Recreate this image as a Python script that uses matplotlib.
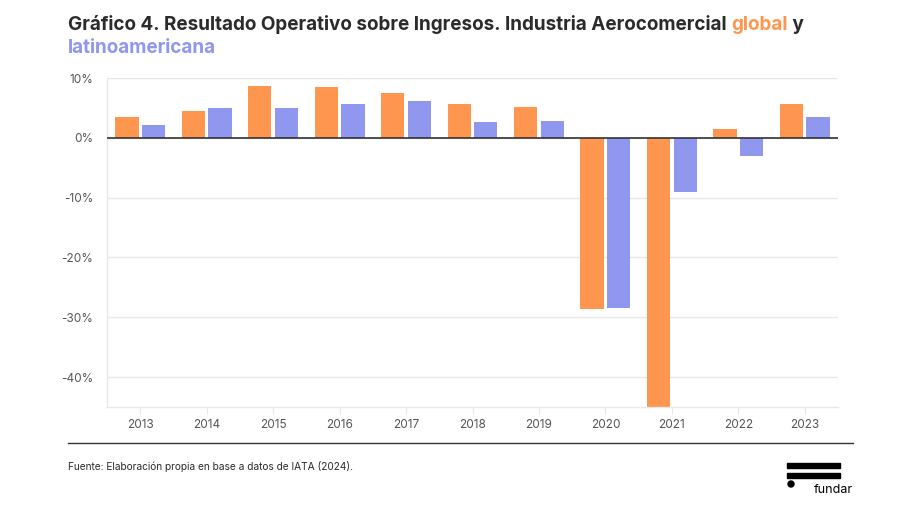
import matplotlib.pyplot as plt
from matplotlib.patches import Rectangle, Ellipse
import numpy as np

plt.rcParams['font.family'] = ['Inter', 'DejaVu Sans']

years = ['2013', '2014', '2015', '2016', '2017', '2018', '2019', '2020', '2021', '2022', '2023']
global_vals = [3.5, 4.5, 8.7, 8.5, 7.5, 5.7, 5.2, -28.7, -48.0, 1.5, 5.7]
latam_vals = [2.2, 5.0, 5.0, 5.7, 6.2, 2.7, 2.8, -28.4, -9.0, -3.1, 3.5]
yticks = [10, 0, -10, -20, -30, -40]

orange = '#FF964F'
blue = '#8F97EE'
text_col = '#2B2B2B'
tick_col = '#555555'
grid_col = '#E8E8E8'

W, H = 900, 505
fig = plt.figure(figsize=(9, 5.05), dpi=100)
ax = fig.add_axes([107 / W, 1 - 407 / H, (838 - 107) / W, (407 - 78) / H])

x = np.arange(len(years))
w = 0.35
ax.bar(x - 0.2, global_vals, w, color=orange, zorder=2)
ax.bar(x + 0.2, latam_vals, w, color=blue, zorder=2)

ax.set_xlim(-0.5, len(years) - 0.5)
ax.set_ylim(-45, 10)
ax.set_yticks(yticks)
ax.set_yticklabels([f'{v}%' for v in yticks])
ax.set_xticks(x)
ax.set_xticklabels(years)
ax.yaxis.grid(True, color=grid_col, lw=1, zorder=0)
ax.axhline(0, color='#333333', lw=1.2, zorder=3)

for s in ['top', 'right']:
    ax.spines[s].set_visible(False)
for s in ['left', 'bottom']:
    ax.spines[s].set_color(grid_col)
    ax.spines[s].set_linewidth(1)
ax.tick_params(axis='y', length=0, pad=10, labelsize=8.5, labelcolor=tick_col)
ax.tick_params(axis='x', length=5, color=grid_col, pad=4, labelsize=8.5, labelcolor=tick_col)

# title with coloured words
ty = 1 - 25 / H
fs = 13.6
t1 = fig.text(68 / W, ty, 'Gráfico 4. Resultado Operativo sobre Ingresos. Industria Aerocomercial ',
              fontsize=fs, fontweight='bold', color=text_col, va='center')
fig.canvas.draw()
r = fig.canvas.get_renderer()
bb = t1.get_window_extent(renderer=r)
t2 = fig.text(bb.x1 / W, ty, 'global', fontsize=fs, fontweight='bold', color=orange, va='center')
bb2 = t2.get_window_extent(renderer=r)
fig.text(bb2.x1 / W, ty, ' y', fontsize=fs, fontweight='bold', color=text_col, va='center')
fig.text(68 / W, 1 - 48 / H, 'latinoamericana', fontsize=fs, fontweight='bold', color=blue, va='center')

# footer
fig.add_artist(plt.Line2D([68 / W, 853 / W], [1 - 443 / H, 1 - 443 / H], color='#333333', lw=1))
fig.text(68 / W, 1 - 467 / H, 'Fuente: Elaboración propia en base a datos de IATA (2024).',
         fontsize=7.3, color=text_col, va='center')

# logo
fig.add_artist(Rectangle((787 / W, 1 - 468 / H), 53 / W, 5 / H, color='black', transform=fig.transFigure))
fig.add_artist(Rectangle((787 / W, 1 - 478 / H), 53 / W, 5 / H, color='black', transform=fig.transFigure))
fig.add_artist(Ellipse((791 / W, 1 - 484 / H), 6 / W, 6 / H, color='black', transform=fig.transFigure))
fig.text(853 / W, 1 - 490 / H, 'fundar', fontsize=9, color='black', ha='right', va='center')

fig.savefig('out.png', dpi=100, facecolor='white')
